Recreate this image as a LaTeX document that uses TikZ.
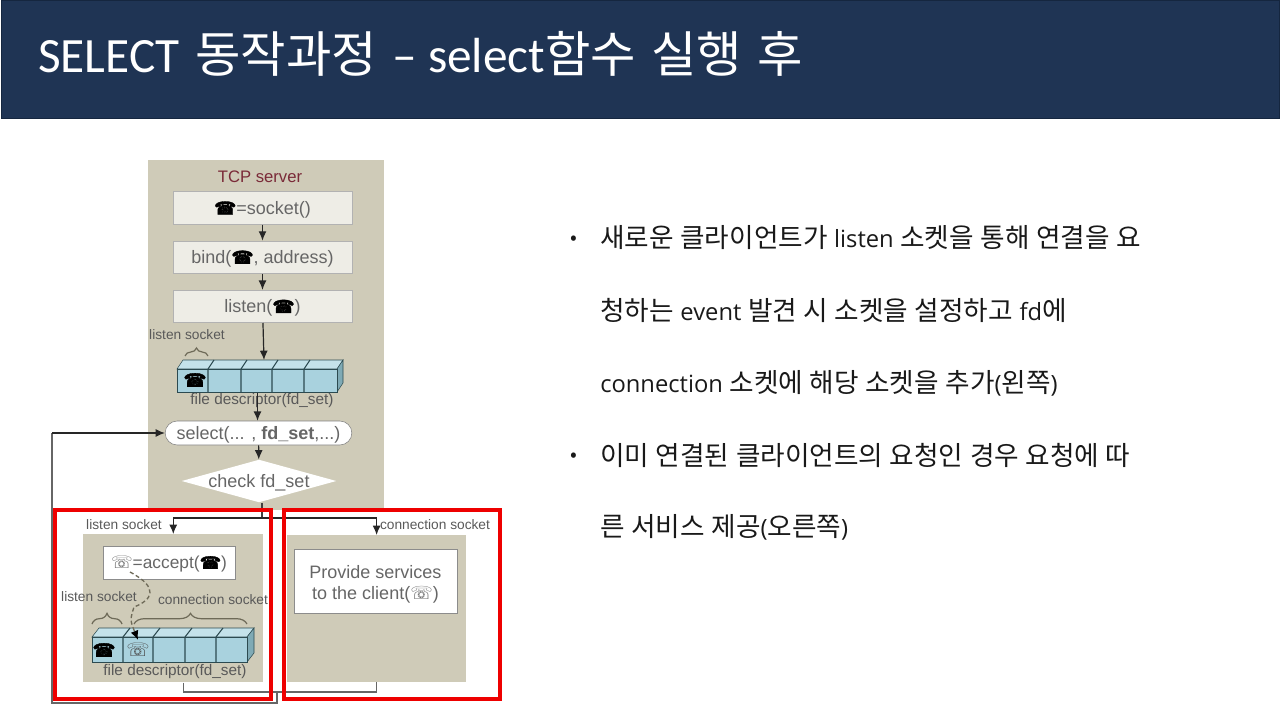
\documentclass[tikz,border=0pt]{standalone}
\usepackage{xcolor}
\usepackage{fontspec}
\usepackage{tikz}
\usetikzlibrary{arrows.meta,positioning,calc,shapes.geometric,decorations.pathreplacing}
\setmainfont[WordSpace=1.1]{Noto Sans CJK KR}
\newfontfamily\titlekorean[WordSpace=1.4]{Noto Sans CJK KR}
\newfontfamily\figfont{Liberation Sans}
\newfontfamily\bodylatin[Scale=0.89]{Open Sans}
\newfontfamily\titlelatin{Carlito}
\newfontfamily\phoneblackfont[FakeBold=2]{DejaVu Sans}
\newfontfamily\phonewhitefont{DejaVu Sans}
\newcommand{\blackphone}{{\phoneblackfont\color{black}\symbol{"260E}}}
\newcommand{\whitephone}{{\phonewhitefont\symbol{"260F}}}
\newcommand{\lat}[1]{{\bodylatin #1}}
\newcommand{\ttl}[1]{{\titlelatin #1}}
\definecolor{HeadBar}{HTML}{1F3454}
\definecolor{HeadEdge}{HTML}{15263F}
\definecolor{PanelTan}{HTML}{CFCBB8}
\definecolor{BoxPale}{HTML}{EEEDE6}
\definecolor{FigText}{HTML}{666666}
\definecolor{CellBlue}{HTML}{A9D2DE}
\definecolor{CellTop}{HTML}{C4E2EA}
\definecolor{CellSide}{HTML}{7FAAB5}
\definecolor{CellEdge}{HTML}{2C4A50}
\definecolor{ServerRed}{HTML}{7A2A38}
\definecolor{MarkRed}{HTML}{EE0000}
\definecolor{BraceTan}{HTML}{6E6A58}

\begin{document}
\begin{tikzpicture}[x=0.75pt,y=-0.75pt,node distance=12pt and 12pt,
  panelbox/.style={fill=PanelTan, inner sep=0pt},
  callbox/.style={draw=black!30, fill=BoxPale, inner sep=0pt, minimum width=134pt, minimum height=24.5pt,
    text depth=0pt, font=\figfont\fontsize{13.5}{16}\selectfont, text=FigText},
  whitebox/.style={draw=black!45, fill=white, inner sep=0pt, align=center,
    font=\figfont\fontsize{13}{16}\selectfont, text=FigText},
  smalllabel/.style={inner sep=0pt, font=\figfont\fontsize{10.3}{12}\selectfont, text=black!65},
  flowarrow/.style={-{Latex[length=7pt,width=6pt]}, black!85, line width=0.9pt},
  loopline/.style={black!60, line width=0.9pt},
  fdbrace/.style={BraceTan, line width=0.9pt, decorate},
  markbox/.style={draw=MarkRed, line width=3pt, inner sep=0pt, outer sep=0pt},
  bodyline/.style={anchor=west, inner sep=0pt, font=\fontsize{20}{24}\selectfont, text=black!90},
  bulletdot/.style={inner sep=0pt, font=\fontsize{15}{20}\selectfont, text=black!90}]
  \useasboundingbox (0,0) rectangle (1280,720);

  % header
  \node[draw=HeadEdge, fill=HeadBar, anchor=north west, inner sep=0pt, minimum width=959pt, minimum height=88pt] (headbar) at (0.5,0.5) {};
  \node[anchor=west, inner sep=0pt, text=white, font=\titlekorean\fontsize{37}{42}\selectfont] (headtitle) at (38,54) {\ttl{SELECT} 동작과정 \ttl{– select}함수 실행 후};

  % server panel
  \node[panelbox, anchor=north west, minimum width=177pt, minimum height=262pt] (serverpanel) at (148,160) {};
  \node[inner sep=0pt, text=ServerRed, font=\figfont\fontsize{12.5}{14}\selectfont] (servertitle) at (260,177) {TCP server};
  \node[callbox] (socketcall) at (262.5,208) {\blackphone=socket()};
  \node[callbox, below=of socketcall] (bindcall) {bind(\blackphone, address)};
  \node[callbox, below=of bindcall] (listencall) {listen(\blackphone)};
  \draw[flowarrow] (socketcall) -- (bindcall);
  \draw[flowarrow] (bindcall) -- (listencall);

  % first fd array
  \fill[CellTop, draw=CellEdge] (177,369) -- (183,360) -- (343,360) -- (337,369) -- cycle;
  \fill[CellSide, draw=CellEdge] (337,369) -- (343,360) -- (343,383) -- (337,392) -- cycle;
  \node[draw=CellEdge, thick, fill=CellBlue, anchor=north west, inner sep=0pt, minimum width=120pt, minimum height=17.5pt] (fdfront) at (177,369) {};
  \foreach \px in {208,241,272,304}
    \draw[CellEdge, thick] (\px,369) -- (\px,392) (\px,369) -- (\px+6,360);
  \node[inner sep=0pt, font=\fontsize{14}{15}\selectfont] (fdphone) at (195,380) {\blackphone};
  \coordinate (fdtop) at (264,360);
  \draw[flowarrow] (listencall) -- (fdtop);
  \node[smalllabel] (listenlabel) at (187,335) {listen socket};
  \coordinate (bracea) at (185,356);
  \coordinate (braceb) at (208,356);
  \draw[fdbrace, decoration={brace,amplitude=6pt}] (bracea) -- (braceb);
  \node[smalllabel, font=\figfont\fontsize{11.5}{12}\selectfont] (fdlabel) at (262,401) {file descriptor(fd\_set)};

  % select and check
  \node[draw=black!50, fill=white, rounded corners=9pt, inner sep=0pt, minimum width=140pt, minimum height=18pt, text depth=0pt,
    text=FigText, font=\figfont\fontsize{13.5}{15}\selectfont] (selectcall) at (258.5,433) {select(... , \textbf{fd\_set},...)};
  \node[diamond, fill=white, inner sep=0pt, aspect=3.6, minimum width=116pt, minimum height=32pt, text depth=0pt,
    text=FigText, font=\figfont\fontsize{13.5}{15}\selectfont] (checkfd) at (259,481) {check fd\_set};
  \draw[flowarrow] (fdfront.south) -- (selectcall.north -| fdfront.south);
  \draw[flowarrow] (selectcall) -- (checkfd);

  % lower panels
  \node[panelbox, anchor=north west, minimum width=135pt, minimum height=111pt] (listenpanel) at (83,534) {};
  \node[panelbox, anchor=north west, minimum width=134pt, minimum height=110pt] (servicepanel) at (287,535) {};
  \node[whitebox, minimum width=99pt, minimum height=25pt, text depth=0pt] (acceptcall) at (169,562.5) {\whitephone=accept(\blackphone)};
  \node[whitebox, minimum width=122pt, minimum height=48pt, font=\figfont\fontsize{13.5}{16}\selectfont] (servicecall) at (375.5,581.5) {\rule{0pt}{14pt}Provide services\\to the client(\whitephone)};

  % split after check
  \coordinate (splitpt) at (262,518);
  \draw[loopline, black!75] (splitpt |- checkfd.south) -- (splitpt);
  \draw[flowarrow] (splitpt) -| (listenpanel.north);
  \draw[flowarrow] (splitpt) -| (servicepanel.north);
  \node[smalllabel] (leftcase) at (124,525) {listen socket};
  \node[smalllabel] (rightcase) at (435,525) {connection socket};

  % second fd array
  \fill[CellTop, draw=CellEdge] (92,637) -- (99,628) -- (254,628) -- (247,637) -- cycle;
  \fill[CellSide, draw=CellEdge] (247,637) -- (254,628) -- (254,653) -- (247,662) -- cycle;
  \node[draw=CellEdge, thick, fill=CellBlue, anchor=north west, inner sep=0pt, minimum width=116pt, minimum height=18.75pt] (fdfrontb) at (92,637) {};
  \foreach \px in {123,153,185,216}
    \draw[CellEdge, thick] (\px,637) -- (\px,662) (\px,637) -- (\px+7,628);
  \node[inner sep=0pt, font=\fontsize{14}{15}\selectfont] (fdphonea) at (104,650) {\blackphone};
  \node[inner sep=0pt, text=black!70, font=\fontsize{14}{15}\selectfont] (fdphoneb) at (138,650) {\whitephone};
  \node[smalllabel] (listenlabelb) at (99,597) {listen socket};
  \node[smalllabel] (connlabel) at (213,600) {connection socket};
  \coordinate (bracec) at (92,624);
  \coordinate (braced) at (122,624);
  \coordinate (bracee) at (134,624);
  \coordinate (bracef) at (247,624);
  \draw[fdbrace, decoration={brace,amplitude=8pt}] (bracec) -- (braced);
  \draw[fdbrace, decoration={brace,amplitude=8pt}] (bracee) -- (bracef);
  \node[smalllabel, font=\figfont\fontsize{11.5}{13}\selectfont] (fdlabelb) at (175,672) {file descriptor(fd\_set)};
  \coordinate (dashstart) at (130,572);
  \coordinate (dashend) at (138,640);
  \draw[densely dashed, BraceTan, line width=1pt, -{Latex[length=7pt,width=6pt,black]}] (dashstart) .. controls (160,588) and (152,600) .. (134,607) .. controls (130,620) .. (dashend);

  % return path
  \coordinate (loopjoin) at (277,692);
  \coordinate (loopcorner) at (52,703);
  \draw[loopline] (servicepanel.south) |- (loopjoin);
  \draw[loopline] ([xshift=7.5pt]listenpanel.south) |- (loopjoin);
  \draw[loopline] (loopjoin) -- (loopjoin |- loopcorner) -- (loopcorner) -- (loopcorner |- selectcall.west);
  \draw[flowarrow] (loopcorner |- selectcall.west) -- (selectcall.west);

  % red marks
  \node[markbox, anchor=north west, minimum width=162pt, minimum height=141.75pt] (markleft) at (54.7,510) {};
  \node[markbox, anchor=north west, minimum width=162pt, minimum height=142pt] (markright) at (284,510) {};

  % text on the right
  \node[bulletdot] (dota) at (574,240) {•};
  \node[bulletdot] (dotb) at (574,457) {•};
  \node[bodyline] (linea) at (600,238) {새로운 클라이언트가 \lat{listen} 소켓을 통해 연결을 요};
  \node[bodyline] (lineb) at (600,310) {청하는 \lat{event} 발견 시 소켓을 설정하고 \lat{fd}에};
  \node[bodyline] (linec) at (600,383) {\lat{connection} 소켓에 해당 소켓을 추가\lat{(}왼쪽\lat{)}};
  \node[bodyline] (lined) at (600,455) {이미 연결된 클라이언트의 요청인 경우 요청에 따};
  \node[bodyline] (linee) at (600,527) {른 서비스 제공\lat{(}오른쪽\lat{)}};
\end{tikzpicture}
\end{document}
